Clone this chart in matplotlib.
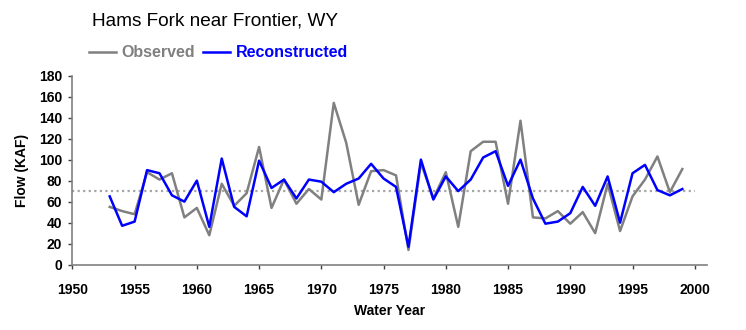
import matplotlib.pyplot as plt

plt.rcParams['font.family'] = ['Liberation Sans', 'DejaVu Sans']

# Data
years = list(range(1953, 2000))
observed = [55, 51, 48, 88, 81, 87, 45, 54, 28, 77,
            56, 68, 112, 54, 81, 58, 72, 62, 154, 116,
            57, 89, 90, 85, 14, 97, 63, 88, 36, 108,
            117, 117, 58, 137, 45, 44, 51, 39, 50, 30,
            77, 32, 65, 81, 103, 69, 91]
reconstructed = [65, 37, 41, 90, 87, 66, 60, 80, 36, 101,
                 55, 46, 99, 73, 81, 63, 81, 79, 69, 77,
                 82, 96, 82, 74, 17, 100, 62, 84, 70, 81,
                 102, 108, 75, 100, 63, 39, 41, 49, 74, 56,
                 84, 40, 87, 95, 71, 66, 72]
mean_flow = 70
mean_span = [1950, 2000]

fig = plt.figure(figsize=(7.46, 3.30), dpi=100)
ax = fig.add_axes([0.097, 0.198, 0.851, 0.573])

ax.plot(mean_span, [mean_flow, mean_flow], color='#a6a6a6', linestyle=(0, (1, 1.5)), linewidth=1.6)
ax.plot(years, observed, color='#808080', linewidth=1.8, label='Observed')
ax.plot(years, reconstructed, color='#0000ff', linewidth=1.8, label='Reconstructed')

ax.set_xlim(1950, 2001)
ax.set_ylim(0, 180)
ax.set_xticks(range(1950, 2001, 5))
ax.set_yticks(range(0, 181, 20))

for side in ['top', 'right']:
    ax.spines[side].set_visible(False)
for side in ['left', 'bottom']:
    ax.spines[side].set_color('#808080')
    ax.spines[side].set_linewidth(1.2)
ax.tick_params(direction='out', length=3, width=1, color='#404040', labelsize=10)
ax.tick_params(axis='x', pad=10)
ax.tick_params(axis='y', pad=4.5)
for lab in ax.get_xticklabels() + ax.get_yticklabels():
    lab.set_fontweight('bold')

ax.set_xlabel('Water Year', fontsize=10, fontweight='bold', labelpad=5)
ax.set_ylabel('Flow (KAF)', fontsize=10, fontweight='bold', labelpad=7)

fig.text(0.123, 0.936, 'Hams Fork near Frontier, WY', fontsize=13.7, va='center', ha='left')

leg = fig.legend(loc='center left', bbox_to_anchor=(0.119, 0.84), ncol=2, frameon=False,
                 handlelength=1.7, handletextpad=0.35, columnspacing=0.5,
                 borderpad=0, borderaxespad=0, labelcolor='linecolor',
                 prop={'weight': 'bold', 'size': 11.5})

fig.savefig('out.png', dpi=100)
